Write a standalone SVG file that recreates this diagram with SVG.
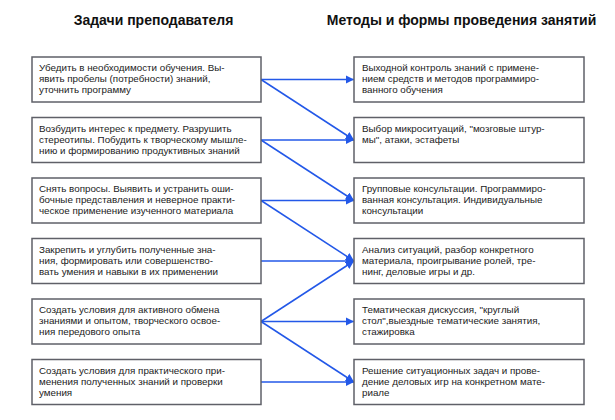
<svg xmlns="http://www.w3.org/2000/svg" width="615" height="420" viewBox="0 0 615 420">
<defs>
<style>
.box{fill:#fff;stroke:#5f6068;stroke-width:1.5}
.t{font-family:"Liberation Sans",Arial,sans-serif;font-size:9.8px;fill:#222}
.h{font-family:"Liberation Sans",Arial,sans-serif;font-size:14px;font-weight:bold;fill:#111;text-anchor:middle}
.c{stroke:#2358e8;stroke-width:1.5;fill:none;marker-end:url(#ah)}
</style>
<marker id="ah" viewBox="0 0 10 10" refX="10" refY="5" markerWidth="5.5" markerHeight="5.5" orient="auto" markerUnits="strokeWidth">
<path d="M0,0 L10,5 L0,10 z" fill="#2358e8"/>
</marker>
</defs>
<rect width="615" height="420" fill="#fff"/>
<text class="h" x="153.5" y="25">Задачи преподавателя</text>
<text class="h" x="461.5" y="25">Методы и формы проведения занятий</text>

<g id="connectors">
<line class="c" x1="261" y1="79.5" x2="354" y2="79.5"/>
<line class="c" x1="261" y1="79.5" x2="354" y2="140"/>
<line class="c" x1="261" y1="140" x2="354" y2="140"/>
<line class="c" x1="261" y1="140" x2="354" y2="200.5"/>
<line class="c" x1="261" y1="200.5" x2="354" y2="200.5"/>
<line class="c" x1="261" y1="200.5" x2="354" y2="261"/>
<line class="c" x1="261" y1="261" x2="354" y2="261"/>
<line class="c" x1="261" y1="321.5" x2="354" y2="261"/>
<line class="c" x1="261" y1="321.5" x2="354" y2="321.5"/>
<line class="c" x1="261" y1="321.5" x2="354" y2="382"/>
<line class="c" x1="261" y1="382" x2="354" y2="382"/>
</g>

<g id="L1"><rect class="box" x="32" y="57" width="229" height="45"/>
<text class="t" x="39" y="71">Убедить в необходимости обучения. Вы-</text>
<text class="t" x="39" y="82">явить пробелы (потребности) знаний,</text>
<text class="t" x="39" y="93">уточнить программу</text></g>
<g id="L2"><rect class="box" x="32" y="117.5" width="229" height="45"/>
<text class="t" x="39" y="131.5">Возбудить интерес к предмету. Разрушить</text>
<text class="t" x="39" y="142.5">стереотипы. Побудить к творческому мышле-</text>
<text class="t" x="39" y="153.5">нию и формированию продуктивных знаний</text></g>
<g id="L3"><rect class="box" x="32" y="178" width="229" height="45"/>
<text class="t" x="39" y="192">Снять вопросы. Выявить и устранить оши-</text>
<text class="t" x="39" y="203">бочные представления и неверное практи-</text>
<text class="t" x="39" y="214">ческое применение изученного материала</text></g>
<g id="L4"><rect class="box" x="32" y="238.5" width="229" height="45"/>
<text class="t" x="39" y="252.5">Закрепить и углубить полученные зна-</text>
<text class="t" x="39" y="263.5">ния, формировать или совершенство-</text>
<text class="t" x="39" y="274.5">вать умения и навыки в их применении</text></g>
<g id="L5"><rect class="box" x="32" y="299" width="229" height="45"/>
<text class="t" x="39" y="313">Создать условия для активного обмена</text>
<text class="t" x="39" y="324">знаниями и опытом, творческого освое-</text>
<text class="t" x="39" y="335">ния передового опыта</text></g>
<g id="L6"><rect class="box" x="32" y="359.5" width="229" height="45"/>
<text class="t" x="39" y="373.5">Создать условия для практического при-</text>
<text class="t" x="39" y="384.5">менения полученных знаний и проверки</text>
<text class="t" x="39" y="395.5">умения</text></g>

<g id="R1"><rect class="box" x="354" y="57" width="230" height="45"/>
<text class="t" x="362" y="71">Выходной контроль знаний с примене-</text>
<text class="t" x="362" y="82">нием средств и методов программиро-</text>
<text class="t" x="362" y="93">ванного обучения</text></g>
<g id="R2"><rect class="box" x="354" y="117.5" width="230" height="45"/>
<text class="t" x="362" y="131.5">Выбор микроситуаций, "мозговые штур-</text>
<text class="t" x="362" y="142.5">мы", атаки, эстафеты</text></g>
<g id="R3"><rect class="box" x="354" y="178" width="230" height="45"/>
<text class="t" x="362" y="192">Групповые консультации. Программиро-</text>
<text class="t" x="362" y="203">ванная консультация. Индивидуальные</text>
<text class="t" x="362" y="214">консультации</text></g>
<g id="R4"><rect class="box" x="354" y="238.5" width="230" height="45"/>
<text class="t" x="362" y="252.5">Анализ ситуаций, разбор конкретного</text>
<text class="t" x="362" y="263.5">материала, проигрывание ролей, тре-</text>
<text class="t" x="362" y="274.5">нинг, деловые игры и др.</text></g>
<g id="R5"><rect class="box" x="354" y="299" width="230" height="45"/>
<text class="t" x="362" y="313">Тематическая дискуссия, "круглый</text>
<text class="t" x="362" y="324">стол",выездные тематические занятия,</text>
<text class="t" x="362" y="335">стажировка</text></g>
<g id="R6"><rect class="box" x="354" y="359.5" width="230" height="45"/>
<text class="t" x="362" y="373.5">Решение ситуационных задач и прове-</text>
<text class="t" x="362" y="384.5">дение деловых игр на конкретном мате-</text>
<text class="t" x="362" y="395.5">риале</text></g>
</svg>
